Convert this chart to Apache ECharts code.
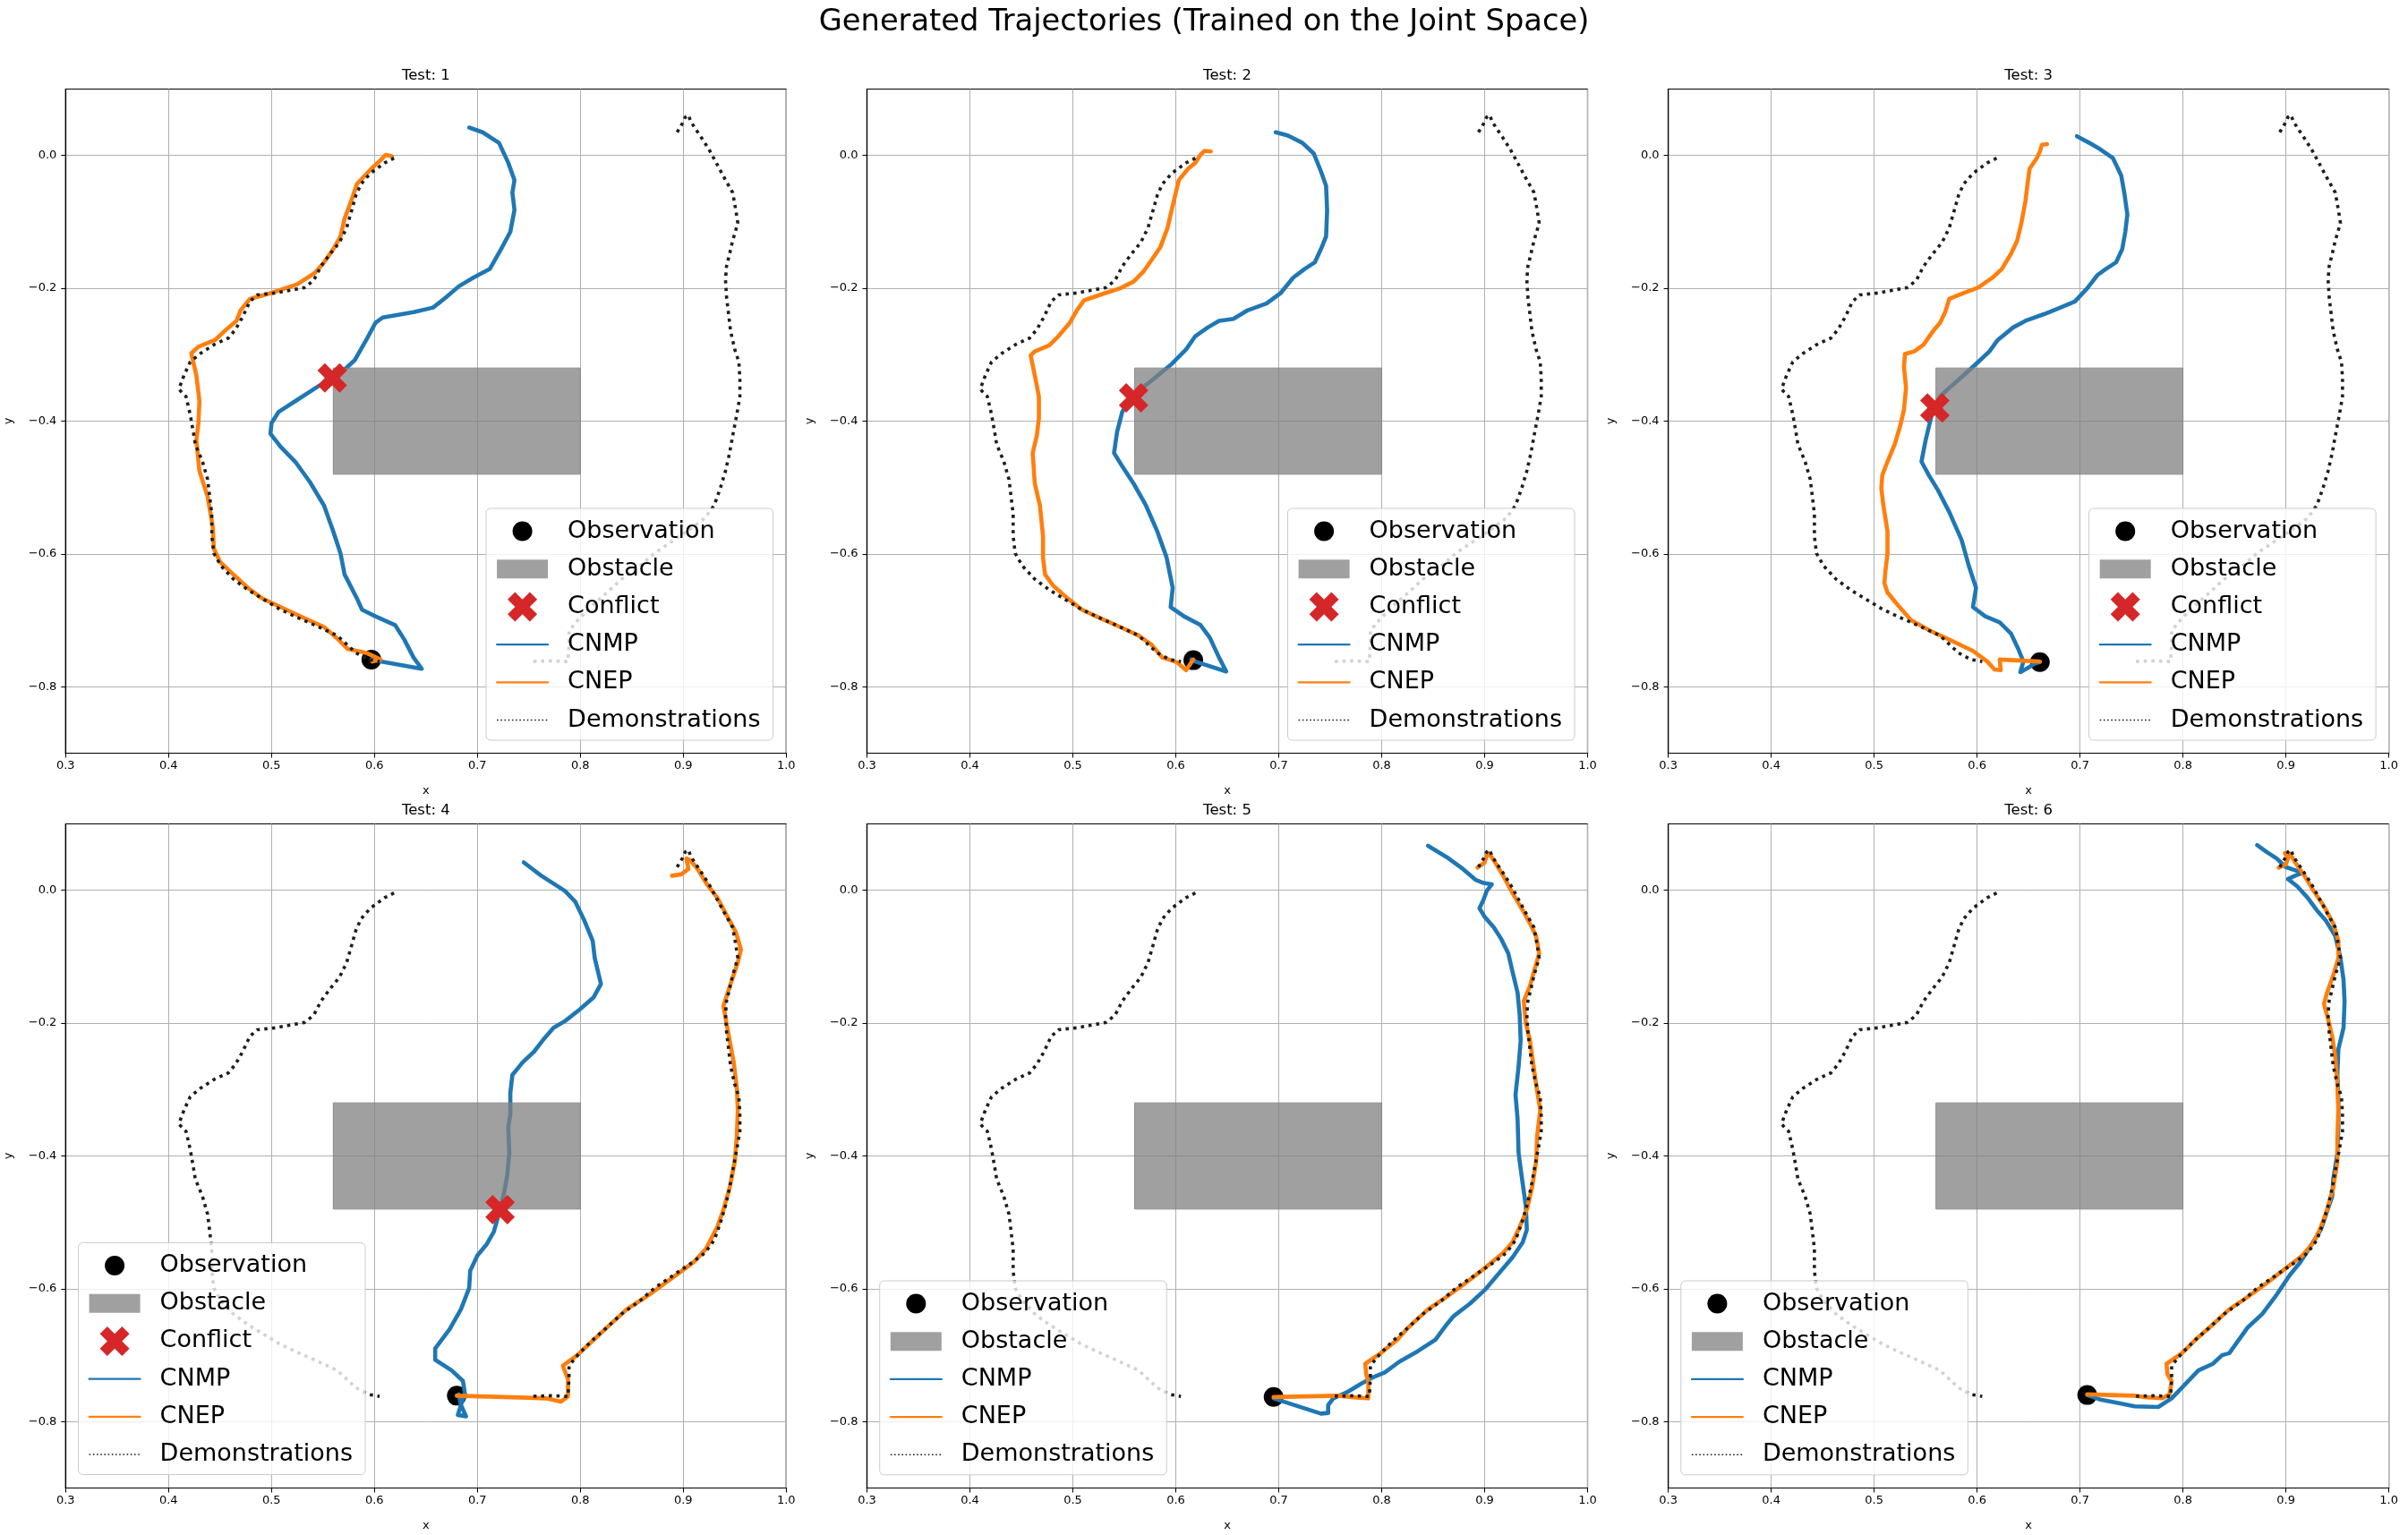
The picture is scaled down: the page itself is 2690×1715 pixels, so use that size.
<!DOCTYPE html>
<html><head><meta charset="utf-8">
<script src="https://cdn.jsdelivr.net/npm/echarts@6/dist/echarts.min.js"></script>
<style>html,body{margin:0;padding:0;background:#fff}#c{width:2690px;height:1715px}</style>
</head><body><div id="c"></div>
<script>
// ---------------- DATA ----------------
const MAIN_TITLE = 'Generated Trajectories (Trained on the Joint Space)';
const PANEL_TITLES = ['Test: 1', 'Test: 2', 'Test: 3', 'Test: 4', 'Test: 5', 'Test: 6'];
const X_TICKS = [0.3, 0.4, 0.5, 0.6, 0.7, 0.8, 0.9, 1.0];
const Y_TICKS = [-0.8, -0.6, -0.4, -0.2, 0.0];
const X_RANGE = [0.3, 1.0];
const Y_RANGE = [-0.9, 0.1];
const OBSTACLE = [0.56, -0.48, 0.80, -0.32]; // x0, y0, x1, y1

const DEMO_LEFT = [[0.619,-0.004],[0.610,-0.011],[0.596,-0.027],[0.587,-0.043],[0.582,-0.060],[0.578,-0.082],[0.573,-0.109],[0.566,-0.131],[0.557,-0.148],[0.548,-0.167],[0.541,-0.188],[0.532,-0.199],[0.518,-0.203],[0.504,-0.207],[0.486,-0.210],[0.479,-0.220],[0.472,-0.243],[0.465,-0.262],[0.458,-0.275],[0.444,-0.285],[0.431,-0.298],[0.421,-0.311],[0.415,-0.331],[0.410,-0.352],[0.417,-0.363],[0.421,-0.390],[0.424,-0.416],[0.426,-0.435],[0.433,-0.461],[0.438,-0.488],[0.440,-0.514],[0.442,-0.540],[0.442,-0.573],[0.444,-0.599],[0.451,-0.618],[0.463,-0.638],[0.477,-0.654],[0.495,-0.671],[0.509,-0.684],[0.527,-0.697],[0.546,-0.710],[0.564,-0.723],[0.573,-0.736],[0.582,-0.749],[0.594,-0.759],[0.605,-0.762]];
const DEMO_RIGHT = [[0.894,0.035],[0.899,0.048],[0.902,0.058],[0.905,0.061],[0.907,0.052],[0.911,0.042],[0.918,0.026],[0.925,0.009],[0.932,-0.011],[0.941,-0.037],[0.948,-0.056],[0.951,-0.082],[0.953,-0.102],[0.948,-0.128],[0.945,-0.148],[0.942,-0.167],[0.941,-0.187],[0.942,-0.213],[0.944,-0.239],[0.946,-0.265],[0.950,-0.292],[0.954,-0.311],[0.955,-0.337],[0.955,-0.363],[0.952,-0.390],[0.948,-0.422],[0.945,-0.448],[0.941,-0.475],[0.936,-0.501],[0.930,-0.527],[0.921,-0.546],[0.909,-0.560],[0.891,-0.579],[0.872,-0.599],[0.858,-0.618],[0.840,-0.638],[0.826,-0.658],[0.812,-0.677],[0.799,-0.697],[0.789,-0.716],[0.789,-0.736],[0.788,-0.762],[0.771,-0.761],[0.753,-0.762]];

const CNMP_1 = [[0.692,0.042],[0.705,0.035],[0.721,0.019],[0.730,-0.011],[0.736,-0.037],[0.734,-0.056],[0.736,-0.082],[0.732,-0.115],[0.723,-0.141],[0.712,-0.171],[0.696,-0.184],[0.682,-0.197],[0.670,-0.213],[0.657,-0.229],[0.638,-0.236],[0.608,-0.244],[0.601,-0.252],[0.592,-0.278],[0.581,-0.308],[0.565,-0.331],[0.546,-0.347],[0.523,-0.370],[0.507,-0.386],[0.500,-0.403],[0.499,-0.419],[0.509,-0.439],[0.523,-0.461],[0.537,-0.491],[0.551,-0.527],[0.560,-0.566],[0.567,-0.599],[0.571,-0.631],[0.583,-0.667],[0.588,-0.684],[0.601,-0.694],[0.620,-0.707],[0.629,-0.729],[0.638,-0.756],[0.646,-0.773],[0.606,-0.762],[0.597,-0.759]];
const CNEP_1 = [[0.617,-0.001],[0.611,0.001],[0.606,-0.007],[0.597,-0.020],[0.583,-0.043],[0.578,-0.066],[0.571,-0.095],[0.567,-0.122],[0.560,-0.141],[0.551,-0.161],[0.542,-0.177],[0.525,-0.194],[0.500,-0.207],[0.479,-0.216],[0.470,-0.233],[0.466,-0.249],[0.454,-0.265],[0.445,-0.278],[0.429,-0.288],[0.422,-0.298],[0.427,-0.331],[0.430,-0.370],[0.429,-0.403],[0.427,-0.429],[0.430,-0.475],[0.438,-0.514],[0.443,-0.560],[0.444,-0.592],[0.450,-0.612],[0.463,-0.631],[0.477,-0.651],[0.491,-0.667],[0.509,-0.680],[0.528,-0.694],[0.551,-0.710],[0.565,-0.729],[0.574,-0.743],[0.592,-0.749],[0.606,-0.759],[0.598,-0.762]];
const CNMP_2 = [[0.697,0.035],[0.709,0.030],[0.723,0.019],[0.734,0.003],[0.741,-0.024],[0.746,-0.046],[0.747,-0.082],[0.746,-0.122],[0.741,-0.141],[0.735,-0.161],[0.725,-0.171],[0.714,-0.184],[0.702,-0.207],[0.688,-0.223],[0.670,-0.233],[0.656,-0.246],[0.642,-0.249],[0.631,-0.259],[0.619,-0.272],[0.610,-0.292],[0.596,-0.314],[0.578,-0.337],[0.564,-0.354],[0.557,-0.363],[0.548,-0.386],[0.543,-0.416],[0.540,-0.448],[0.548,-0.468],[0.559,-0.494],[0.571,-0.527],[0.582,-0.566],[0.591,-0.605],[0.597,-0.651],[0.595,-0.680],[0.608,-0.694],[0.624,-0.707],[0.633,-0.726],[0.642,-0.756],[0.649,-0.777],[0.619,-0.762],[0.615,-0.759]];
const CNEP_2 = [[0.634,0.006],[0.628,0.007],[0.624,0.001],[0.619,-0.011],[0.612,-0.020],[0.603,-0.037],[0.600,-0.056],[0.596,-0.082],[0.592,-0.109],[0.585,-0.138],[0.578,-0.154],[0.569,-0.174],[0.559,-0.190],[0.546,-0.200],[0.532,-0.207],[0.511,-0.218],[0.504,-0.233],[0.497,-0.252],[0.486,-0.272],[0.477,-0.286],[0.463,-0.295],[0.459,-0.301],[0.463,-0.331],[0.467,-0.363],[0.467,-0.396],[0.465,-0.422],[0.461,-0.448],[0.463,-0.494],[0.468,-0.527],[0.471,-0.573],[0.471,-0.605],[0.473,-0.631],[0.481,-0.648],[0.495,-0.667],[0.509,-0.684],[0.527,-0.697],[0.546,-0.710],[0.564,-0.723],[0.576,-0.736],[0.587,-0.756],[0.601,-0.763],[0.610,-0.775],[0.617,-0.759]];
const CNMP_3 = [[0.697,0.029],[0.709,0.019],[0.720,0.009],[0.732,-0.004],[0.740,-0.030],[0.743,-0.056],[0.746,-0.089],[0.744,-0.115],[0.741,-0.141],[0.735,-0.161],[0.725,-0.171],[0.717,-0.180],[0.707,-0.200],[0.695,-0.220],[0.681,-0.229],[0.665,-0.239],[0.647,-0.249],[0.635,-0.259],[0.620,-0.278],[0.612,-0.295],[0.601,-0.311],[0.587,-0.331],[0.573,-0.350],[0.564,-0.363],[0.557,-0.383],[0.554,-0.403],[0.550,-0.429],[0.546,-0.461],[0.553,-0.481],[0.562,-0.504],[0.573,-0.537],[0.585,-0.579],[0.592,-0.618],[0.599,-0.651],[0.596,-0.680],[0.608,-0.694],[0.622,-0.703],[0.633,-0.720],[0.640,-0.743],[0.645,-0.762],[0.642,-0.778],[0.649,-0.772],[0.656,-0.765],[0.661,-0.763]];
const CNEP_3 = [[0.668,0.017],[0.663,0.016],[0.661,0.006],[0.658,-0.004],[0.651,-0.020],[0.649,-0.043],[0.647,-0.069],[0.643,-0.102],[0.639,-0.128],[0.633,-0.148],[0.624,-0.171],[0.615,-0.184],[0.601,-0.199],[0.587,-0.207],[0.573,-0.216],[0.569,-0.236],[0.564,-0.252],[0.557,-0.265],[0.548,-0.285],[0.539,-0.295],[0.530,-0.299],[0.529,-0.318],[0.531,-0.350],[0.529,-0.383],[0.525,-0.409],[0.520,-0.435],[0.513,-0.461],[0.508,-0.481],[0.507,-0.501],[0.509,-0.527],[0.513,-0.566],[0.513,-0.599],[0.511,-0.625],[0.510,-0.644],[0.513,-0.658],[0.523,-0.677],[0.536,-0.700],[0.555,-0.716],[0.573,-0.729],[0.596,-0.746],[0.610,-0.762],[0.617,-0.774],[0.623,-0.775],[0.622,-0.759],[0.661,-0.762]];
const CNMP_4 = [[0.745,0.042],[0.762,0.022],[0.785,-0.001],[0.795,-0.017],[0.804,-0.046],[0.812,-0.076],[0.814,-0.102],[0.820,-0.141],[0.813,-0.161],[0.799,-0.180],[0.785,-0.197],[0.774,-0.207],[0.765,-0.223],[0.755,-0.243],[0.744,-0.259],[0.734,-0.278],[0.732,-0.305],[0.732,-0.337],[0.730,-0.357],[0.731,-0.396],[0.729,-0.429],[0.726,-0.455],[0.722,-0.481],[0.716,-0.514],[0.709,-0.533],[0.700,-0.550],[0.693,-0.573],[0.692,-0.599],[0.684,-0.631],[0.673,-0.661],[0.659,-0.690],[0.659,-0.707],[0.675,-0.723],[0.686,-0.739],[0.688,-0.759],[0.684,-0.775],[0.681,-0.790],[0.689,-0.792],[0.684,-0.775],[0.682,-0.759],[0.680,-0.761]];
const CNEP_4 = [[0.889,0.022],[0.898,0.024],[0.905,0.032],[0.903,0.048],[0.907,0.045],[0.914,0.032],[0.923,0.009],[0.933,-0.011],[0.942,-0.037],[0.951,-0.063],[0.956,-0.089],[0.953,-0.109],[0.946,-0.141],[0.939,-0.174],[0.942,-0.200],[0.945,-0.226],[0.949,-0.259],[0.952,-0.298],[0.953,-0.331],[0.952,-0.370],[0.950,-0.409],[0.945,-0.448],[0.939,-0.481],[0.933,-0.507],[0.922,-0.540],[0.910,-0.560],[0.896,-0.576],[0.882,-0.592],[0.864,-0.612],[0.845,-0.631],[0.824,-0.661],[0.808,-0.684],[0.797,-0.700],[0.783,-0.716],[0.788,-0.736],[0.788,-0.762],[0.781,-0.770],[0.767,-0.765],[0.749,-0.764],[0.680,-0.761]];
const CNMP_5 = [[0.845,0.067],[0.865,0.048],[0.879,0.032],[0.891,0.016],[0.899,0.011],[0.907,0.009],[0.902,-0.001],[0.899,-0.014],[0.895,-0.027],[0.900,-0.040],[0.909,-0.056],[0.916,-0.073],[0.923,-0.095],[0.927,-0.122],[0.932,-0.154],[0.934,-0.187],[0.935,-0.226],[0.933,-0.265],[0.930,-0.308],[0.932,-0.344],[0.933,-0.396],[0.937,-0.442],[0.940,-0.475],[0.941,-0.511],[0.937,-0.530],[0.927,-0.553],[0.916,-0.573],[0.900,-0.602],[0.886,-0.622],[0.870,-0.641],[0.863,-0.654],[0.852,-0.677],[0.835,-0.694],[0.817,-0.710],[0.803,-0.726],[0.792,-0.733],[0.780,-0.743],[0.766,-0.756],[0.753,-0.765],[0.748,-0.775],[0.748,-0.787],[0.741,-0.788],[0.695,-0.765]];
const CNEP_5 = [[0.893,0.034],[0.900,0.042],[0.902,0.052],[0.904,0.056],[0.909,0.045],[0.918,0.022],[0.927,-0.004],[0.937,-0.030],[0.945,-0.053],[0.950,-0.069],[0.953,-0.095],[0.948,-0.122],[0.944,-0.144],[0.938,-0.167],[0.940,-0.200],[0.944,-0.226],[0.947,-0.259],[0.950,-0.292],[0.954,-0.331],[0.951,-0.370],[0.950,-0.409],[0.946,-0.448],[0.941,-0.481],[0.934,-0.507],[0.927,-0.530],[0.918,-0.546],[0.900,-0.569],[0.881,-0.592],[0.863,-0.612],[0.845,-0.631],[0.826,-0.658],[0.815,-0.677],[0.799,-0.697],[0.784,-0.713],[0.785,-0.729],[0.787,-0.739],[0.787,-0.765],[0.778,-0.764],[0.757,-0.761],[0.695,-0.763]];
const CNMP_6 = [[0.872,0.068],[0.881,0.058],[0.891,0.048],[0.900,0.035],[0.911,0.029],[0.916,0.026],[0.909,0.022],[0.902,0.017],[0.911,0.006],[0.921,-0.011],[0.930,-0.030],[0.939,-0.046],[0.948,-0.069],[0.953,-0.102],[0.956,-0.135],[0.957,-0.167],[0.956,-0.207],[0.951,-0.239],[0.950,-0.278],[0.951,-0.318],[0.951,-0.357],[0.950,-0.396],[0.946,-0.435],[0.945,-0.461],[0.939,-0.488],[0.934,-0.511],[0.925,-0.533],[0.914,-0.560],[0.904,-0.579],[0.891,-0.609],[0.877,-0.638],[0.863,-0.658],[0.845,-0.697],[0.838,-0.700],[0.829,-0.713],[0.815,-0.723],[0.799,-0.749],[0.789,-0.765],[0.776,-0.778],[0.753,-0.777],[0.737,-0.772],[0.720,-0.767],[0.707,-0.760]];
const CNEP_6 = [[0.893,0.034],[0.900,0.039],[0.902,0.048],[0.899,0.056],[0.904,0.055],[0.909,0.042],[0.918,0.022],[0.927,-0.001],[0.937,-0.024],[0.946,-0.050],[0.951,-0.076],[0.951,-0.102],[0.946,-0.128],[0.940,-0.154],[0.937,-0.171],[0.941,-0.194],[0.945,-0.220],[0.948,-0.252],[0.950,-0.292],[0.951,-0.331],[0.950,-0.370],[0.950,-0.409],[0.946,-0.448],[0.940,-0.481],[0.934,-0.507],[0.927,-0.530],[0.916,-0.550],[0.900,-0.569],[0.881,-0.592],[0.863,-0.612],[0.845,-0.631],[0.826,-0.658],[0.812,-0.677],[0.799,-0.697],[0.784,-0.713],[0.785,-0.729],[0.789,-0.739],[0.787,-0.759],[0.780,-0.765],[0.762,-0.763],[0.753,-0.761],[0.707,-0.759]];

const OBSERVATIONS = [[0.597,-0.759],[0.617,-0.760],[0.661,-0.763],[0.680,-0.761],[0.695,-0.763],[0.707,-0.760]];
const CONFLICTS = [[0.559,-0.335],[0.559,-0.365],[0.559,-0.380],[0.722,-0.481],null,null];

const CNMP = [CNMP_1, CNMP_2, CNMP_3, CNMP_4, CNMP_5, CNMP_6];
const CNEP = [CNEP_1, CNEP_2, CNEP_3, CNEP_4, CNEP_5, CNEP_6];

// ---------------- LAYOUT / STYLE ----------------
const FONT = 'DejaVu Sans';
const GRID_LEFT = [73.3, 968.5, 1863.6];
const GRID_TOP = [99.5, 920.5];
const GRID_W = 805, GRID_H = 742;
const LEGEND_POS = [[543, 568], [1438.5, 568], [2333.6, 568], [87.5, 1388.5], [982.7, 1431], [1877.8, 1431]];
const C_CNMP = '#1f77b4', C_CNEP = '#ff7f0e', C_CONF = '#d62728', C_DEMO = '#1e1e1e';
const X_PATH = 'path://M2.5,0L5,2.5L7.5,0L10,2.5L7.5,5L10,7.5L7.5,10L5,7.5L2.5,10L0,7.5L2.5,5L0,2.5Z';
const CIRCLE_ICON = 'path://M0,0M33,33M5.5,16.5A11,11,0,1,0,27.5,16.5A11,11,0,1,0,5.5,16.5Z';
const RECT_ICON = 'path://M0,0M0,33M0,6L57,6L57,27L0,27Z';
const HIDDEN = {opacity: 0, color: 'rgba(0,0,0,0)', borderWidth: 0};

const fmt = v => (Math.abs(v) < 1e-9 ? 0 : v).toFixed(1).replace('-', '\u2212');

const grids = [], xAxes = [], yAxes = [], series = [], titles = [], legends = [];
titles.push({text: MAIN_TITLE, left: 1345, top: 25, textAlign: 'center', textVerticalAlign: 'middle', padding: 0,
  textStyle: {fontSize: 33.7, fontWeight: 'normal', fontFamily: FONT, color: '#000'}});

for (let i = 0; i < 6; i++) {
  const col = i % 3, row = Math.floor(i / 3);
  const gl = GRID_LEFT[col], gt = GRID_TOP[row];
  grids.push({left: gl, top: gt, width: GRID_W, height: GRID_H, show: true, borderColor: '#000', borderWidth: 1.2, backgroundColor: 'transparent'});
  titles.push({text: PANEL_TITLES[i], left: gl + GRID_W / 2, top: gt - 14.5, textAlign: 'center', textVerticalAlign: 'middle', padding: 0,
    textStyle: {fontSize: 16.5, fontWeight: 'normal', fontFamily: FONT, color: '#000'}});
  xAxes.push({gridIndex: i, type: 'value', min: X_RANGE[0], max: X_RANGE[1],
    name: 'x', nameLocation: 'middle', nameGap: 36, nameTextStyle: {fontSize: 13, fontFamily: FONT, color: '#000'},
    axisLine: {show: true, onZero: false, lineStyle: {color: '#000', width: 1.2}},
    axisTick: {show: true, length: 5, customValues: X_TICKS, lineStyle: {color: '#000', width: 1}},
    axisLabel: {show: true, customValues: X_TICKS, formatter: fmt, fontSize: 13, fontFamily: FONT, color: '#000', margin: 8},
    splitLine: {show: true, lineStyle: {color: '#b0b0b0', width: 1}}});
  yAxes.push({gridIndex: i, type: 'value', min: Y_RANGE[0], max: Y_RANGE[1],
    name: 'y', nameLocation: 'middle', nameGap: 57, nameTextStyle: {fontSize: 13, fontFamily: FONT, color: '#000'},
    axisLine: {show: true, onZero: false, lineStyle: {color: '#000', width: 1.2}},
    axisTick: {show: true, length: 5, customValues: Y_TICKS, lineStyle: {color: '#000', width: 1}},
    axisLabel: {show: true, customValues: Y_TICKS, formatter: fmt, fontSize: 13, fontFamily: FONT, color: '#000', margin: 10},
    splitLine: {show: true, lineStyle: {color: '#b0b0b0', width: 1}}});

  const ax = {xAxisIndex: i, yAxisIndex: i};
  series.push(Object.assign({type: 'scatter', name: 'Observation', data: [OBSERVATIONS[i]], symbol: 'circle', symbolSize: 22,
    itemStyle: {color: '#000', opacity: 1}, z: 2, silent: true}, ax));
  series.push(Object.assign({type: 'line', name: 'CNMP', data: CNMP[i], symbol: 'none', showSymbol: false,
    lineStyle: {color: C_CNMP, width: 4.6, cap: 'round', join: 'round'}, itemStyle: {color: C_CNMP}, z: 3, silent: true}, ax));
  series.push(Object.assign({type: 'line', name: 'CNEP', data: CNEP[i], symbol: 'none', showSymbol: false,
    lineStyle: {color: C_CNEP, width: 4.6, cap: 'round', join: 'round'}, itemStyle: {color: C_CNEP}, z: 4, silent: true}, ax));
  [DEMO_LEFT, DEMO_RIGHT].forEach(d => {
    series.push(Object.assign({type: 'line', name: 'Demonstrations', data: d, symbol: 'none', showSymbol: false,
      lineStyle: {color: C_DEMO, width: 3.6, type: [3.6, 5], cap: 'butt'}, itemStyle: {color: C_DEMO}, z: 5, silent: true}, ax));
  });
  series.push(Object.assign({type: 'custom', name: 'Obstacle', data: [OBSTACLE], encode: {x: [0, 2], y: [1, 3]}, z: 6, silent: true,
    itemStyle: {color: 'rgba(128,128,128,0.75)'},
    renderItem: (params, api) => {
      const p0 = api.coord([api.value(0), api.value(3)]);
      const p1 = api.coord([api.value(2), api.value(1)]);
      return {type: 'rect', shape: {x: p0[0], y: p0[1], width: p1[0] - p0[0], height: p1[1] - p0[1]},
        style: {fill: 'rgba(128,128,128,0.75)', stroke: 'rgba(128,128,128,0.8)', lineWidth: 1}};
    }}, ax));
  if (CONFLICTS[i]) {
    series.push(Object.assign({type: 'scatter', name: 'Conflict', data: [CONFLICTS[i]], symbol: X_PATH, symbolSize: 33,
      itemStyle: {color: C_CONF, opacity: 1}, z: 7, silent: true}, ax));
  }

  const ld = [{name: 'Observation', icon: CIRCLE_ICON, itemStyle: {color: '#000', opacity: 1}},
    {name: 'Obstacle', icon: RECT_ICON, itemStyle: {color: 'rgba(128,128,128,0.75)', opacity: 1}}];
  if (CONFLICTS[i]) ld.push({name: 'Conflict', icon: X_PATH, itemStyle: {color: C_CONF, opacity: 1}});
  ld.push({name: 'CNMP', itemStyle: HIDDEN, lineStyle: {width: 2.2, color: C_CNMP, opacity: 1}},
    {name: 'CNEP', itemStyle: HIDDEN, lineStyle: {width: 2.2, color: C_CNEP, opacity: 1}},
    {name: 'Demonstrations', itemStyle: HIDDEN, lineStyle: {width: 1.6, color: C_DEMO, type: [1.6, 2.6], opacity: 1}});
  legends.push({orient: 'vertical', left: LEGEND_POS[i][0], top: LEGEND_POS[i][1], itemWidth: 57, itemHeight: 33, itemGap: 9.2,
    padding: [9, 14, 6, 11], backgroundColor: 'rgba(255,255,255,0.8)', borderColor: '#cccccc', borderWidth: 1, borderRadius: 5,
    selectedMode: false, z: 10,
    textStyle: {fontSize: 27, lineHeight: 33, fontFamily: FONT, color: '#000', padding: [0, 0, 0, 17]}, data: ld});
}

const chart = echarts.init(document.getElementById('c'), null, {renderer: 'canvas'});
chart.setOption({animation: false, backgroundColor: '#fff', title: titles, grid: grids, xAxis: xAxes, yAxis: yAxes,
  legend: legends, series: series, tooltip: {show: false}});
</script></body></html>
